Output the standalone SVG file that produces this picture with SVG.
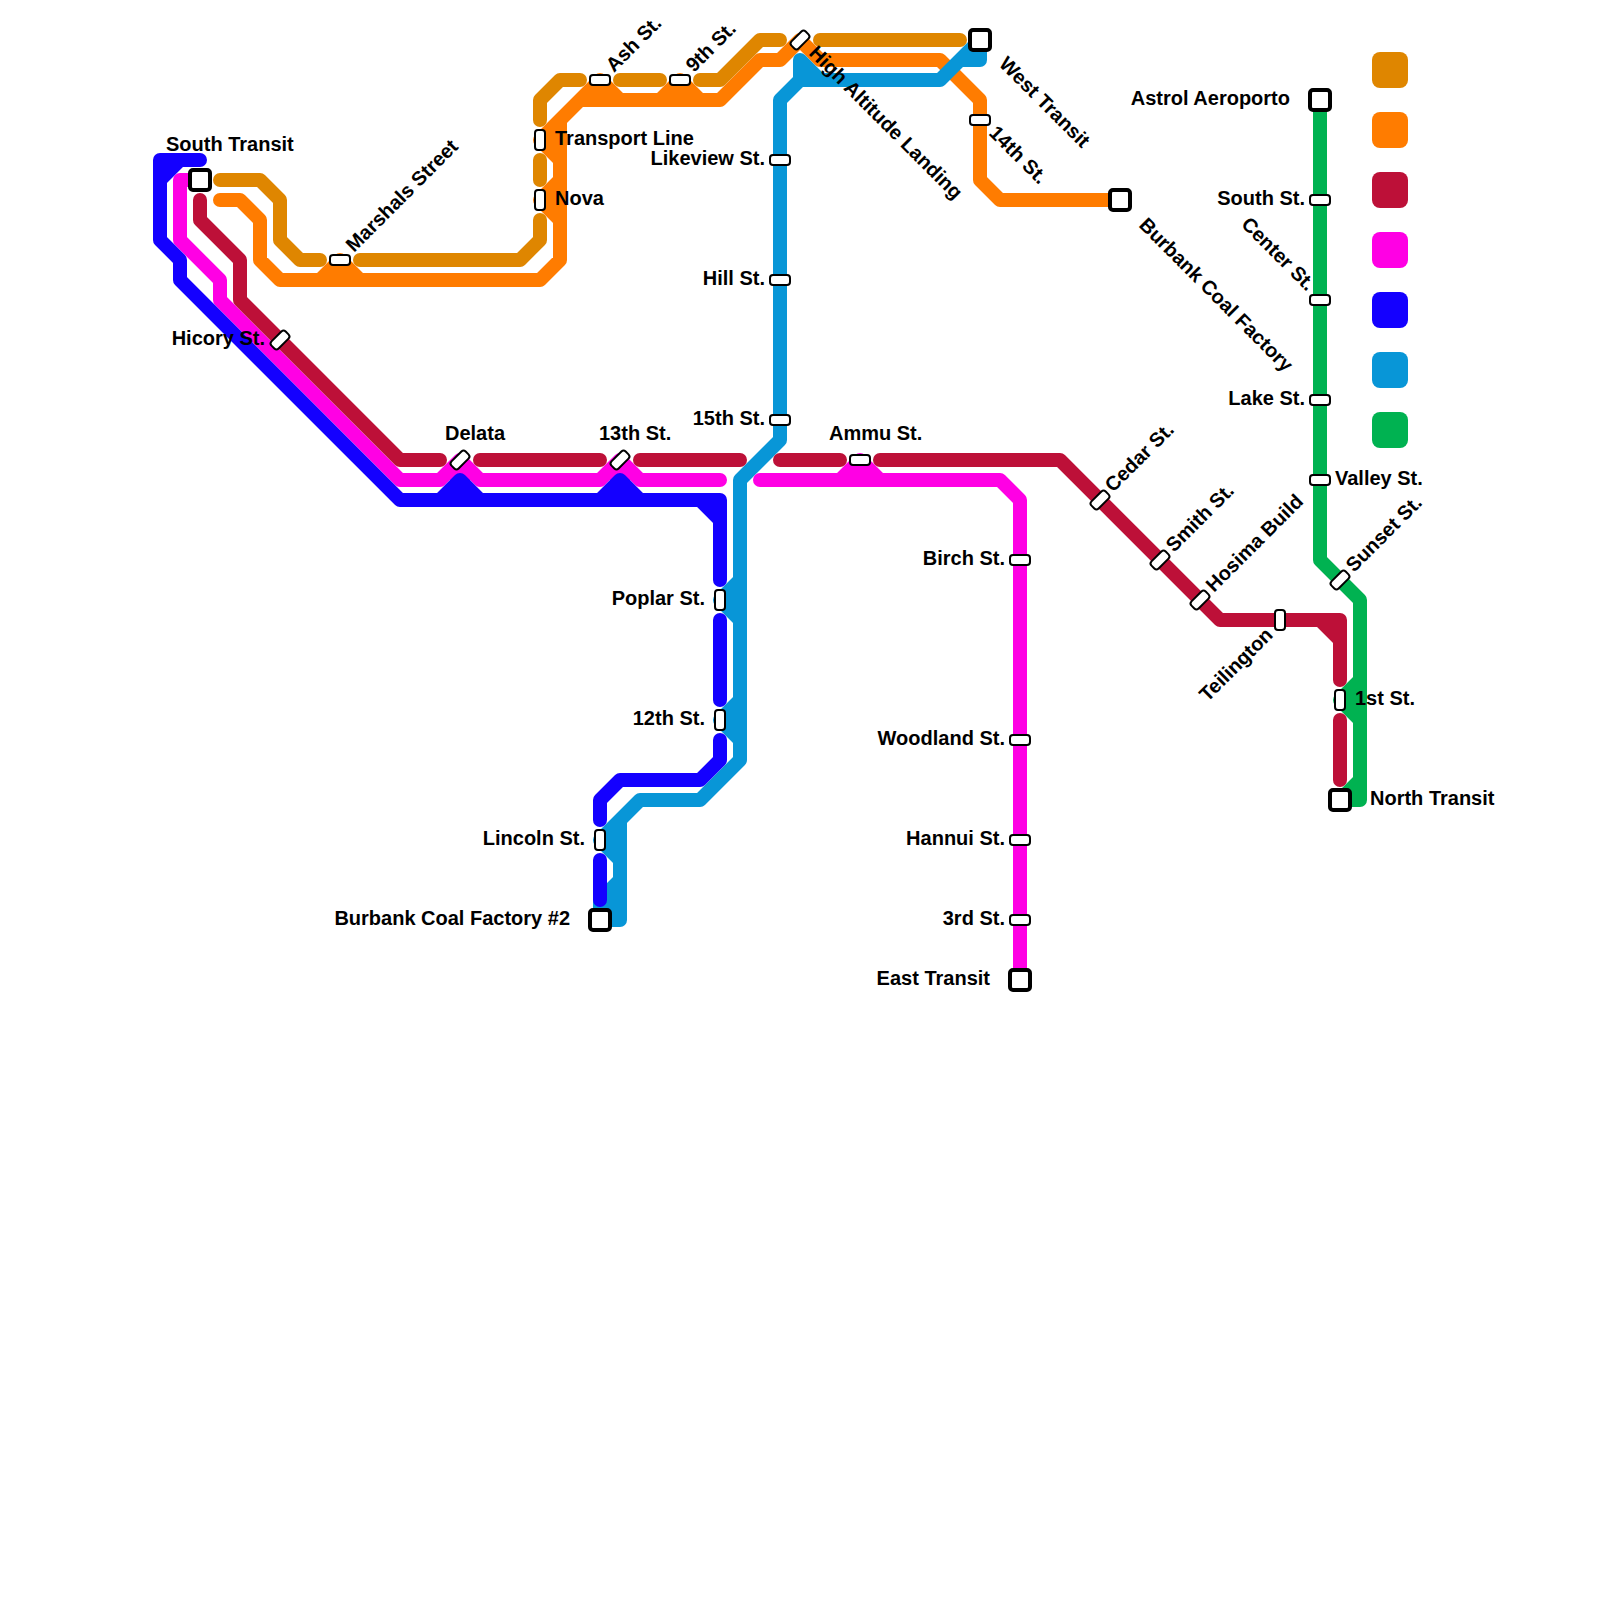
<svg xmlns="http://www.w3.org/2000/svg" width="1600" height="1600" viewBox="0 0 1600 1600">
<style>
text{font-family:"Liberation Sans",Arial,sans-serif;font-weight:700;font-size:20px;fill:#000}
.e{text-anchor:end}
.l{fill:none;stroke-width:14;stroke-linecap:round;stroke-linejoin:round}
.s{fill:#fff;stroke:#000;stroke-width:2}
.t{fill:#fff;stroke:#000;stroke-width:4}
.g{stroke:#00b251}.o{stroke:#ff7c00}.d{stroke:#df8600}.k{stroke:#0896d7}.m{stroke:#ff00e4}.b{stroke:#1400ff}.c{stroke:#bd1038}
</style>
<defs>
<rect id="sh" x="-10" y="-5" width="20" height="10" rx="3"/>
<rect id="te" x="-10" y="-10" width="20" height="20" rx="3"/>
</defs>
<rect width="1600" height="1600" fill="#fff"/>
<g id="connectors">
<path class="l g" d="M1320 100V560L1360 600V800H1340L1360 780M1360 680L1340 700L1360 720"/>
<path fill="#00b251" d="M1360 680L1340 700L1360 720ZM1360 780L1340 800H1360Z"/>
<path class="l o" d="M220 200H240L260 220V260L280 280H540L560 260V120L600 80L620 100H660L680 80L700 100H720L760 60H780L800 40L820 60H940L980 100V180L1000 200H1120M320 280L340 260L360 280M580 100H620M660 100H700M540 140L560 120M540 140L560 160M560 180L540 200L560 220"/>
<path fill="#ff7c00" d="M320 280L340 260L360 280ZM580 100L600 80L620 100ZM660 100L680 80L700 100ZM540 140L560 120V160ZM560 180L540 200L560 220Z"/>
<path class="l d" d="M220 180H260L280 200V240L300 260H320M360 260H520L540 240V220M540 180V160M540 120V100L560 80H580M620 80H660M700 80H720L760 40H780M820 40H960"/>
<path class="l k" d="M620 880L600 900V920H620V860L600 840L640 800H700L740 760V740L720 720L740 700V620L720 600L740 580V480L780 440V100L800 80V60L820 80H940L960 60H980V40L940 80M620 820V860M740 700V740M740 580V620M800 80H820"/>
<path fill="#0896d7" d="M620 820L600 840L620 860ZM620 880L600 900V920H620ZM740 700L720 720L740 740ZM740 580L720 600L740 620ZM800 60L820 80H800Z"/>
<path class="l m" d="M200 180H180V240L220 280V300L400 480H440L460 460L480 480H600L620 460L640 480H720M760 480H840L860 460L880 480H1000L1020 500V980M840 480H880"/>
<path fill="#ff00e4" d="M440 480L460 460L480 480ZM600 480L620 460L640 480ZM840 480L860 460L880 480Z"/>
<path class="l b" d="M200 160H160V240L180 260V280L400 500H720V580M160 180L180 160M440 500L460 480L480 500M600 500L620 480L640 500M700 500L720 520M720 620V700M720 740V760L700 780H620L600 800V820M600 860V900"/>
<path fill="#1400ff" d="M440 500L460 480L480 500ZM600 500L620 480L640 500Z"/>
<path class="l c" d="M200 200V220L240 260V300L400 460H440M480 460H600M640 460H740M780 460H840M880 460H1060L1220 620H1340V680M1320 620L1340 640M1340 720V780"/>
</g>
<g id="n-south-transit"><use href="#te" class="t" x="200" y="180"/><text x="166" y="151">South Transit</text></g>
<g id="n-hicory"><use href="#sh" class="s" transform="translate(280 340) rotate(-45)"/><text class="e" x="265" y="345">Hicory St.</text></g>
<g id="n-marshals"><use href="#sh" class="s" x="340" y="260"/><text transform="translate(354 253) rotate(-45)">Marshals Street</text></g>
<g id="n-transport"><use href="#sh" class="s" transform="translate(540 140) rotate(90)"/><text x="555" y="145">Transport Line</text></g>
<g id="n-nova"><use href="#sh" class="s" transform="translate(540 200) rotate(90)"/><text x="555" y="205">Nova</text></g>
<g id="n-ash"><use href="#sh" class="s" x="600" y="80"/><text transform="translate(614 73) rotate(-45)">Ash St.</text></g>
<g id="n-9th"><use href="#sh" class="s" x="680" y="80"/><text transform="translate(694 73) rotate(-45)">9th St.</text></g>
<g id="n-high"><use href="#sh" class="s" transform="translate(800 40) rotate(-45)"/><text transform="translate(808 54) rotate(45)">High Altitude Landing</text></g>
<g id="n-west"><use href="#te" class="t" x="980" y="40"/><text transform="translate(998 65) rotate(45)">West Transit</text></g>
<g id="n-14th"><use href="#sh" class="s" x="980" y="120"/><text transform="translate(988 134) rotate(45)">14th St.</text></g>
<g id="n-burbank"><use href="#te" class="t" x="1120" y="200"/><text transform="translate(1138 226) rotate(45)">Burbank Coal Factory</text></g>
<g id="n-likeview"><use href="#sh" class="s" x="780" y="160"/><text class="e" x="765" y="165">Likeview St.</text></g>
<g id="n-hill"><use href="#sh" class="s" x="780" y="280"/><text class="e" x="765" y="285">Hill St.</text></g>
<g id="n-15th"><use href="#sh" class="s" x="780" y="420"/><text class="e" x="765" y="425">15th St.</text></g>
<g id="n-delata"><use href="#sh" class="s" transform="translate(460 460) rotate(-45)"/><text x="445" y="440">Delata</text></g>
<g id="n-13th"><use href="#sh" class="s" transform="translate(620 460) rotate(-45)"/><text x="599" y="440">13th St.</text></g>
<g id="n-ammu"><use href="#sh" class="s" x="860" y="460"/><text x="829" y="440">Ammu St.</text></g>
<g id="n-poplar"><use href="#sh" class="s" transform="translate(720 600) rotate(90)"/><text class="e" x="705" y="605">Poplar St.</text></g>
<g id="n-12th"><use href="#sh" class="s" transform="translate(720 720) rotate(90)"/><text class="e" x="705" y="725">12th St.</text></g>
<g id="n-lincoln"><use href="#sh" class="s" transform="translate(600 840) rotate(90)"/><text class="e" x="585" y="845">Lincoln St.</text></g>
<g id="n-burbank2"><use href="#te" class="t" x="600" y="920"/><text class="e" x="570" y="925">Burbank Coal Factory #2</text></g>
<g id="n-birch"><use href="#sh" class="s" x="1020" y="560"/><text class="e" x="1005" y="565">Birch St.</text></g>
<g id="n-woodland"><use href="#sh" class="s" x="1020" y="740"/><text class="e" x="1005" y="745">Woodland St.</text></g>
<g id="n-hannui"><use href="#sh" class="s" x="1020" y="840"/><text class="e" x="1005" y="845">Hannui St.</text></g>
<g id="n-3rd"><use href="#sh" class="s" x="1020" y="920"/><text class="e" x="1005" y="925">3rd St.</text></g>
<g id="n-east"><use href="#te" class="t" x="1020" y="980"/><text class="e" x="990" y="985">East Transit</text></g>
<g id="n-cedar"><use href="#sh" class="s" transform="translate(1100 500) rotate(-45)"/><text transform="translate(1113 493) rotate(-45)">Cedar St.</text></g>
<g id="n-smith"><use href="#sh" class="s" transform="translate(1160 560) rotate(-45)"/><text transform="translate(1174 553) rotate(-45)">Smith St.</text></g>
<g id="n-hosima"><use href="#sh" class="s" transform="translate(1200 600) rotate(-45)"/><text transform="translate(1214 593) rotate(-45)">Hosima Build</text></g>
<g id="n-teilington"><use href="#sh" class="s" transform="translate(1280 620) rotate(90)"/><text class="e" transform="translate(1274 636) rotate(-45)">Teilington</text></g>
<g id="n-1st"><use href="#sh" class="s" transform="translate(1340 700) rotate(90)"/><text x="1355" y="705">1st St.</text></g>
<g id="n-north"><use href="#te" class="t" x="1340" y="800"/><text x="1370" y="805">North Transit</text></g>
<g id="n-sunset"><use href="#sh" class="s" transform="translate(1340 580) rotate(-45)"/><text transform="translate(1354 573) rotate(-45)">Sunset St.</text></g>
<g id="n-valley"><use href="#sh" class="s" x="1320" y="480"/><text x="1335" y="485">Valley St.</text></g>
<g id="n-lake"><use href="#sh" class="s" x="1320" y="400"/><text class="e" x="1305" y="405">Lake St.</text></g>
<g id="n-center"><use href="#sh" class="s" x="1320" y="300"/><text class="e" transform="translate(1307 292) rotate(45)">Center St.</text></g>
<g id="n-southst"><use href="#sh" class="s" x="1320" y="200"/><text class="e" x="1305" y="205">South St.</text></g>
<g id="n-astrol"><use href="#te" class="t" x="1320" y="100"/><text class="e" x="1290" y="105">Astrol Aeroporto</text></g>
<g id="legend">
<rect x="1372" y="52" width="36" height="36" rx="8" fill="#df8600"/>
<rect x="1372" y="112" width="36" height="36" rx="8" fill="#ff7c00"/>
<rect x="1372" y="172" width="36" height="36" rx="8" fill="#bd1038"/>
<rect x="1372" y="232" width="36" height="36" rx="8" fill="#ff00e4"/>
<rect x="1372" y="292" width="36" height="36" rx="8" fill="#1400ff"/>
<rect x="1372" y="352" width="36" height="36" rx="8" fill="#0896d7"/>
<rect x="1372" y="412" width="36" height="36" rx="8" fill="#00b251"/>
</g>
</svg>
